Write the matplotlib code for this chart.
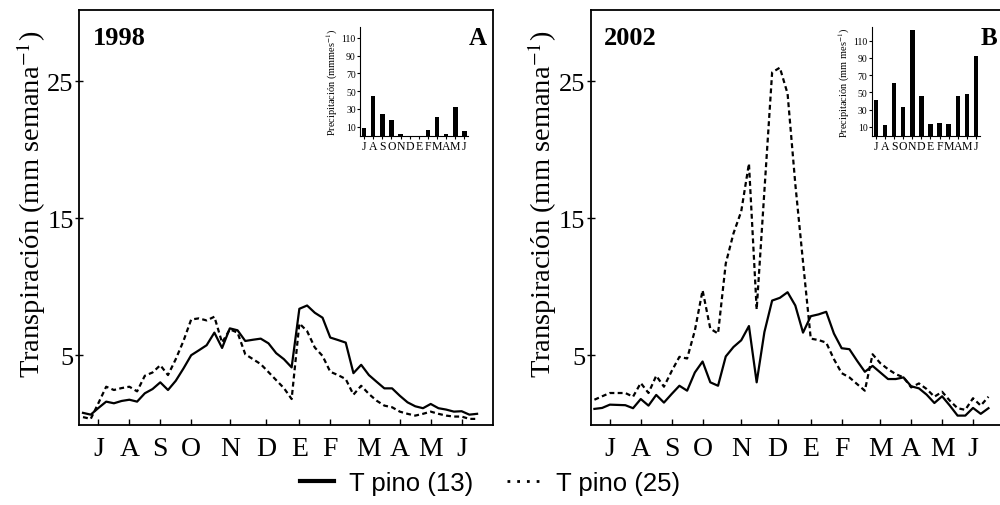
import matplotlib
matplotlib.use('Agg')
import matplotlib.pyplot as plt
from matplotlib.lines import Line2D

plt.rcParams['font.family'] = ['Liberation Serif', 'DejaVu Serif']
plt.rcParams['mathtext.fontset'] = 'stix'

# weekly transpiration (mm semana-1), 52 weeks from July to June
weeks = list(range(52))

t13_1998 = [0.79, 0.66, 1.15, 1.61, 1.49, 1.66, 1.75, 1.61, 2.22, 2.53,
            3.02, 2.46, 3.13, 4.03, 5.00, 5.36, 5.73, 6.65, 5.53, 6.96,
            6.82, 6.04, 6.13, 6.21, 5.87, 5.15, 4.71, 4.11, 8.39, 8.63,
            8.10, 7.74, 6.29, 6.11, 5.92, 3.69, 4.30, 3.55, 3.06, 2.58,
            2.58, 2.04, 1.56, 1.27, 1.13, 1.44, 1.13, 1.03, 0.88, 0.91,
            0.66, 0.72]
t25_1998 = [0.48, 0.35, 1.51, 2.70, 2.46, 2.60, 2.70, 2.36, 3.50, 3.74,
            4.27, 3.55, 4.71, 6.04, 7.61, 7.69, 7.54, 7.81, 5.92, 6.89,
            6.65, 5.07, 4.71, 4.35, 3.77, 3.18, 2.60, 1.80, 7.32, 6.76,
            5.56, 4.95, 3.79, 3.55, 3.26, 2.12, 2.77, 2.17, 1.68, 1.32,
            1.20, 0.88, 0.72, 0.59, 0.72, 0.88, 0.72, 0.59, 0.52, 0.52,
            0.35, 0.35]
t13_2002 = [1.08, 1.15, 1.39, 1.37, 1.35, 1.13, 1.80, 1.32, 2.10, 1.54,
            2.17, 2.77, 2.41, 3.74, 4.54, 3.02, 2.77, 4.91, 5.60, 6.09,
            7.13, 3.02, 6.69, 8.99, 9.19, 9.60, 8.63, 6.65, 7.85, 7.98,
            8.17, 6.58, 5.51, 5.44, 4.59, 3.79, 4.22, 3.74, 3.26, 3.26,
            3.38, 2.73, 2.58, 2.12, 1.51, 2.00, 1.32, 0.59, 0.59, 1.15,
            0.72, 1.13]
t25_2002 = [1.75, 2.00, 2.24, 2.24, 2.24, 1.97, 2.97, 2.24, 3.50, 2.70,
            3.84, 4.88, 4.76, 6.80, 9.74, 6.94, 6.58, 11.7, 13.9, 15.5,
            19.0, 8.34, 17.0, 25.65, 26.0, 24.1, 17.5, 11.8, 6.21, 6.11,
            5.92, 4.71, 3.69, 3.38, 2.89, 2.41, 5.07, 4.42, 3.98, 3.62,
            3.38, 2.65, 2.94, 2.53, 1.97, 2.33, 1.68, 1.13, 1.01, 1.86,
            1.32, 1.97]

month_pos = [2, 6, 10, 14, 19, 23.7, 28, 32, 37, 41, 45, 49]
month_lab = ['J', 'A', 'S', 'O', 'N', 'D', 'E', 'F', 'M', 'A', 'M', 'J']

# monthly precipitation (mm mes-1) for the insets
prec_1998 = [8.1, 44.7, 24.3, 17.5, 1.7, 0, 0, 6.2, 21.3, 1.7, 32.6, 5.1]
prec_2002 = [41.5, 12.7, 61.5, 33.1, 122.3, 46.2, 13.1, 14.6, 13.8, 46.2, 48.5, 92.3]
prec_ticks = [10, 30, 50, 70, 90, 110]

fig = plt.figure(figsize=(10, 5.06), dpi=100)

panels = [
    (0.0793, '1998', 'A', t13_1998, t25_1998, prec_1998, 0.360, 122, 'Precipitación (mmmes$^{-1}$)'),
    (0.5907, '2002', 'B', t13_2002, t25_2002, prec_2002, 0.8717, 125.5, 'Precipitación (mm mes$^{-1}$)'),
]

for left, year, letter, s13, s25, prec, inset_left, ptop, plab in panels:
    ax = fig.add_axes([left, 0.158, 0.414, 0.820])
    ax.plot(weeks, s13, color='black', lw=1.6)
    ax.plot(weeks, s25, color='black', lw=1.6, ls=(0, (2.2, 1.5)))
    ax.set_xlim(-0.48, 53.1)
    ax.set_ylim(-0.1, 30.2)
    ax.set_yticks([5, 15, 25])
    ax.set_yticklabels(['5', '15', '25'], fontsize=19)
    ax.set_xticks(month_pos)
    ax.set_xticklabels(month_lab, fontsize=20)
    ax.tick_params(axis='x', direction='in', length=4, width=1, pad=8)
    ax.tick_params(axis='y', direction='inout', length=6, width=1, pad=1)
    for sp in ax.spines.values():
        sp.set_linewidth(1.3)
    ax.set_ylabel('Transpiración (mm semana$^{-1}$)', fontsize=20.5)
    ax.yaxis.set_label_coords(-0.076, 0.533)
    ax.text(0.032, 0.935, year, transform=ax.transAxes, fontsize=19,
            fontweight='bold', va='center', ha='left')
    ax.text(0.963, 0.935, letter, transform=ax.transAxes, fontsize=18,
            fontweight='bold', va='center', ha='center')

    ins = fig.add_axes([inset_left, 0.730, 0.108, 0.214])
    ins.bar(range(12), prec, width=0.5, color='black')
    ins.set_xlim(-0.45, 11.4)
    ins.set_ylim(0, ptop)
    ins.set_yticks(prec_ticks)
    ins.set_yticklabels([str(v) for v in prec_ticks], fontsize=7)
    ins.set_xticks(range(12))
    ins.set_xticklabels(month_lab, fontsize=8.5)
    ins.tick_params(length=2, width=0.8, pad=1)
    ins.spines['top'].set_visible(False)
    ins.spines['right'].set_visible(False)
    ins.set_ylabel(plab, fontsize=7.5, labelpad=1)
    ins.patch.set_alpha(0)

handles = [Line2D([], [], color='black', lw=3),
           Line2D([], [], color='black', lw=2, ls=(0, (1, 2.5)))]
fig.legend(handles, ['T pino (13)', 'T pino (25)'], loc='center',
           bbox_to_anchor=(0.49, 0.043), ncol=2, frameon=False,
           prop={'family': 'Liberation Sans', 'size': 18.5},
           handlelength=1.3, columnspacing=1.3, handletextpad=0.6)

fig.savefig('out.png', dpi=100)
